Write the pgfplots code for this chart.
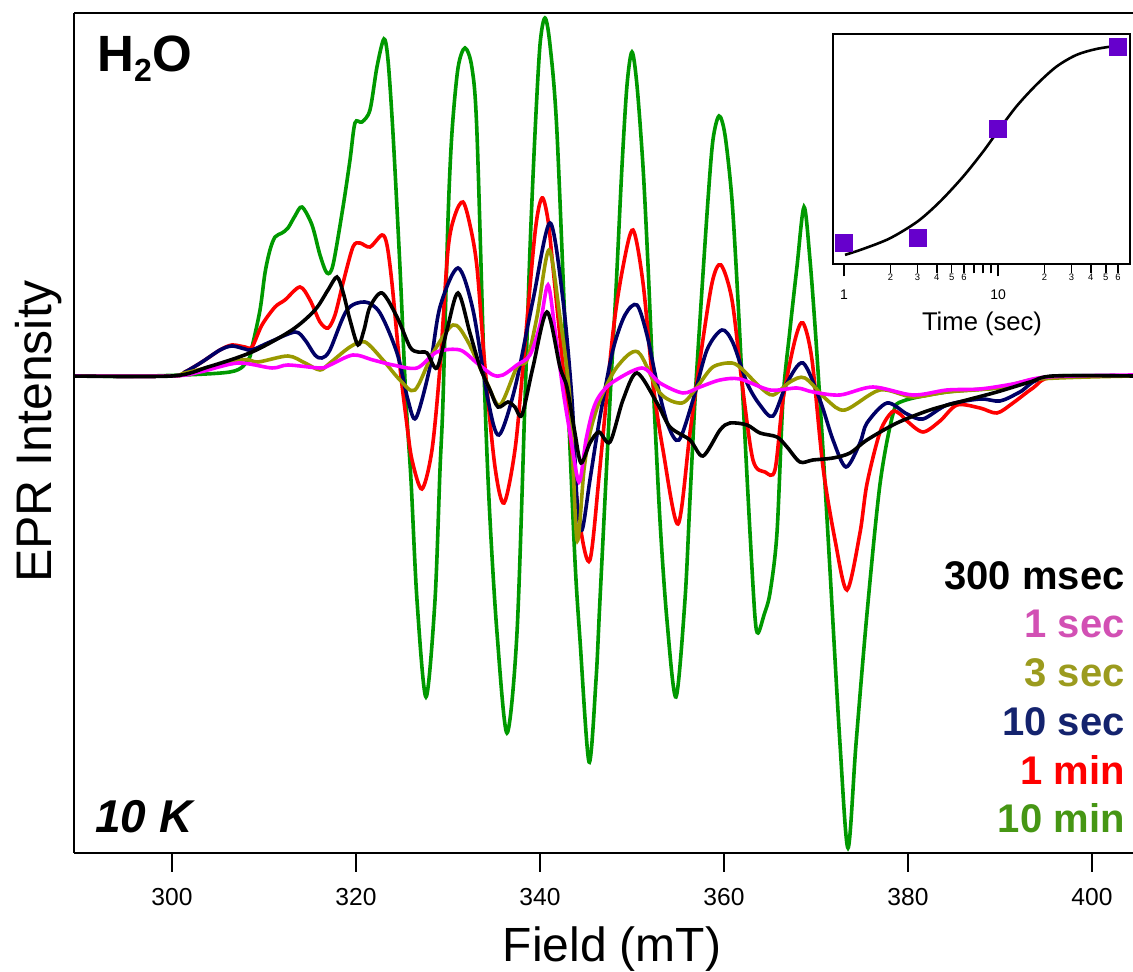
\documentclass[border=0pt]{standalone}
\usepackage{fontspec}
\setmainfont{Liberation Sans}
\usepackage{pgfplots}
\pgfplotsset{compat=1.18}
\definecolor{cgreen}{RGB}{0,153,0}
\definecolor{cred}{RGB}{255,0,0}
\definecolor{cnavy}{RGB}{0,0,102}
\definecolor{colive}{RGB}{153,153,0}
\definecolor{cmag}{RGB}{255,0,255}
\definecolor{cpurple}{RGB}{102,0,204}
\definecolor{tpink}{RGB}{210,80,180}
\definecolor{tolive}{RGB}{155,155,30}
\definecolor{tnavy}{RGB}{20,35,110}
\definecolor{tgreen}{RGB}{70,150,20}
\begin{document}
\begin{tikzpicture}
\begin{axis}[name=main, at={(0,0)}, anchor=south west, scale only axis,
  width=529.5pt, height=420pt,
  xmin=289.35, xmax=404.46, ymin=-477, ymax=363,
  axis x line*=box, axis y line*=left,
  xtick={300,320,...,400}, ytick=\empty, xtick pos=left,
  tick align=outside, major tick length=9.5pt,
  every tick/.style={black, line width=1pt},
  axis line style={line width=1pt},
  /pgf/number format/assume math mode=true, /pgf/number format/1000 sep={},
  xticklabel style={font=\fontsize{12.3}{14}\selectfont, anchor=base, yshift=-17pt},
  every axis plot/.append style={line width=1.8pt, smooth}]
% 10 min
\addplot[cgreen] coordinates {(289.0,0)(297.61,0)(306.30,4)(308.26,16)(308.70,29)(309.57,66)(310.11,103)(310.65,126)(311.20,139)(311.96,143)(312.61,148)(313.37,160)(314.13,169)(315.22,151)(316.09,121)(316.85,103)(317.50,111)(318.59,169)(319.35,216)(319.89,253)(320.65,254)(321.52,266)(322.28,309)(323.04,337)(323.48,316)(324.02,243)(324.78,109)(325.43,-24)(325.98,-104)(326.63,-224)(327.61,-321)(328.59,-224)(329.13,-94)(329.46,-24)(330.00,156)(330.43,243)(331.09,308)(331.85,328)(332.61,308)(333.15,243)(334.02,-24)(334.57,-144)(335.33,-257)(336.41,-357)(337.50,-257)(338.37,-24)(338.91,126)(339.46,243)(340.00,331)(340.54,358)(341.09,331)(341.85,243)(343.04,-24)(343.80,-184)(344.35,-264)(345.33,-386)(346.09,-304)(346.52,-224)(347.61,-24)(348.26,86)(348.91,209)(349.46,291)(350.00,324)(350.54,291)(351.20,209)(351.74,111)(352.28,-4)(353.04,-144)(353.80,-244)(354.78,-321)(355.76,-224)(356.30,-124)(356.85,-24)(357.39,56)(358.26,176)(358.80,236)(359.46,260)(360.11,241)(360.87,176)(361.52,76)(362.07,-24)(362.83,-157)(363.37,-241)(363.70,-257)(364.35,-239)(365.00,-217)(365.76,-157)(366.41,-24)(367.17,46)(367.93,109)(368.70,169)(369.35,116)(370.00,36)(370.76,-74)(371.52,-194)(372.61,-368)(373.48,-472)(374.35,-368)(375.54,-238)(376.96,-108)(378.37,-38)(379.46,-25)(384.24,-16)(389.67,-12)(393.26,-6)(396.20,0)(404.46,0)};
% 1 min
\addplot[cred] coordinates {(289.0,0)(300,0)(301.41,4)(303.26,14)(305.22,26)(306.52,31)(307.93,29)(308.70,29)(309.78,51)(311.20,69)(312.28,76)(313.91,89)(315.00,76)(316.09,54)(316.96,48)(317.72,61)(318.59,93)(319.67,129)(320.43,133)(321.52,129)(322.83,141)(323.37,131)(323.91,93)(324.78,9)(325.54,-49)(326.09,-84)(327.17,-113)(328.26,-74)(329.13,9)(330.00,126)(330.76,161)(331.63,174)(332.39,151)(333.15,109)(334.02,9)(335.11,-91)(336.09,-127)(337.28,-74)(338.15,9)(339.46,143)(340.22,178)(340.87,156)(341.41,109)(342.50,9)(343.26,-57)(344.35,-149)(345.43,-184)(346.52,-91)(347.93,43)(349.02,109)(350.11,146)(351.20,93)(352.28,-7)(353.37,-74)(355.00,-148)(356.30,-57)(357.39,16)(358.70,93)(359.67,111)(360.87,76)(361.96,-7)(363.15,-84)(364.46,-96)(365.54,-94)(366.41,-24)(367.72,36)(368.59,53)(369.57,16)(370.76,-91)(372.07,-164)(373.37,-214)(374.78,-157)(375.54,-108)(376.96,-56)(378.26,-36)(379.13,-38)(379.89,-45)(381.63,-56)(383.48,-45)(385.33,-29)(387.83,-32)(389.67,-37)(391.41,-27)(393.59,-12)(395.76,-1)(404.46,0)};
% 10 sec
\addplot[cnavy] coordinates {(289.0,0)(300,0)(301.41,4)(303.26,14)(305.22,26)(306.52,30)(307.93,27)(308.70,26)(310.65,34)(313.37,44)(314.46,36)(315.54,21)(316.30,18)(317.17,26)(319.02,66)(320.98,74)(322.61,63)(324.46,23)(325.65,-24)(326.52,-42)(328.04,9)(329.13,69)(331.09,108)(332.72,66)(334.35,-24)(335.54,-59)(337.28,-12)(339.24,76)(341.09,153)(342.50,76)(343.48,-24)(344.02,-124)(344.57,-154)(345.43,-104)(346.52,-41)(347.93,26)(349.24,61)(350.54,71)(351.63,41)(352.72,-7)(353.91,-49)(355.11,-64)(356.63,-24)(358.15,26)(359.78,46)(360.98,33)(362.50,-7)(363.91,-29)(365.33,-40)(366.85,-7)(368.59,13)(370.43,-24)(371.85,-64)(373.26,-91)(374.78,-67)(375.54,-47)(377.72,-27)(379.89,-38)(381.63,-43)(384.24,-29)(387.83,-23)(390.00,-25)(392.17,-16)(395.11,-1)(404.46,0)};
% 3 sec
\addplot[colive] coordinates {(289.0,0)(300,0)(301.41,3)(307.61,16)(309.35,14)(312.61,20)(314.46,13)(316.09,6)(317.17,13)(319.35,29)(320.98,34)(322.93,16)(324.78,-4)(326.41,-14)(328.37,23)(330.54,51)(332.07,36)(334.24,-7)(335.65,-29)(337.50,9)(338.59,16)(339.67,59)(340.98,126)(342.17,59)(343.26,-24)(344.02,-164)(344.78,-94)(345.43,-57)(346.52,-24)(348.37,9)(350.65,24)(353.04,-17)(355.43,-27)(357.07,-11)(358.80,9)(360.87,13)(362.07,6)(363.91,-11)(365.33,-19)(367.17,-6)(368.80,-2)(371.20,-24)(373.15,-34)(376.96,-14)(380.54,-21)(384.24,-16)(389.67,-12)(394.35,-3)(404.46,0)};
% 1 sec
\addplot[cmag] coordinates {(289.0,0)(300,0)(303.04,4)(307.17,13)(310.87,8)(312.61,11)(316.09,8)(317.17,11)(319.67,21)(321.85,16)(324.02,11)(326.63,8)(328.80,24)(331.30,26)(333.15,13)(334.89,1)(335.98,1)(337.50,11)(338.91,21)(340.00,51)(340.87,91)(341.63,46)(342.50,-14)(343.26,-57)(344.24,-106)(345.00,-64)(345.76,-34)(346.52,-19)(347.93,-6)(351.09,8)(353.04,-7)(355.54,-17)(357.39,-11)(359.57,-4)(361.74,-3)(365.00,-14)(367.93,-12)(369.67,-16)(372.61,-19)(376.20,-11)(380.54,-19)(384.24,-14)(387.83,-13)(391.41,-8)(395.11,-1)(404.46,1)};
% 300 msec
\addplot[black] coordinates {(289.0,0)(300,0)(303.91,9)(308.70,24)(313.04,46)(315.54,66)(316.96,86)(317.93,99)(318.59,84)(319.35,56)(320.22,31)(320.87,46)(321.52,69)(322.83,83)(324.46,59)(325.87,29)(326.74,24)(327.72,23)(328.80,8)(329.89,46)(331.09,83)(332.39,43)(333.48,9)(334.57,-14)(335.43,-31)(336.52,-26)(337.28,-31)(338.04,-39)(339.24,9)(340.76,64)(342.17,9)(342.93,-11)(343.80,-57)(344.46,-87)(345.43,-67)(346.41,-56)(347.61,-66)(349.02,-24)(350.54,3)(352.72,-27)(354.13,-51)(356.30,-64)(357.72,-80)(359.57,-54)(360.65,-47)(362.50,-49)(363.91,-57)(365.76,-61)(366.85,-71)(368.26,-86)(369.67,-84)(371.85,-82)(373.70,-77)(375.54,-64)(378.80,-47)(382.39,-34)(385.98,-25)(389.67,-16)(393.26,-6)(395.76,0)(404.46,0)};
\end{axis}
% labels of the main axis
\node[anchor=base, font=\fontsize{24}{28}\selectfont] at (269pt,-54pt) {Field (mT)};
\node[anchor=base, rotate=90, font=\fontsize{25}{30}\selectfont] at (-11.15pt,210.75pt) {EPR Intensity};
\node[anchor=base west, inner sep=0pt, font=\bfseries\fontsize{25.5}{30}\selectfont] at (11.5pt,390.5pt) {H\raisebox{-5pt}{\fontsize{16}{18}\selectfont 2}O};
\node[anchor=base west, inner sep=0pt, font=\bfseries\itshape\fontsize{23}{27}\selectfont] at (10.5pt,10pt) {10 K};
\begin{scope}[every node/.style={anchor=base east, inner sep=0pt, font=\bfseries\fontsize{20}{24}\selectfont}]
\node[text=black] at (525.5pt,131.5pt) {300 msec};
\node[text=tpink] at (525.5pt,107.75pt) {1 sec};
\node[text=tolive] at (525.5pt,83pt) {3 sec};
\node[text=tnavy] at (525.5pt,58.5pt) {10 sec};
\node[text=cred] at (525.5pt,34pt) {1 min};
\node[text=tgreen] at (525.5pt,10pt) {10 min};
\end{scope}
% inset
\begin{axis}[at={(379.65pt,294.35pt)}, anchor=south west, scale only axis,
  width=148.35pt, height=115pt,
  xmode=log, xmin=0.852, xmax=71.9, ymin=0, ymax=1,
  ytick=\empty, xtick={1,10},
  xticklabels={\raisebox{-8pt}{\fontsize{7}{8}\selectfont 1},\raisebox{-8pt}{\fontsize{7}{8}\selectfont 10}},
  minor xtick={7,8,9}, xtick pos=left, tick align=outside,
  major tick length=6pt, minor tick length=4.5pt,
  every tick/.style={black, line width=0.8pt},
  axis line style={line width=1pt},
  axis background/.style={fill=white},
  xticklabel style={font=\fontsize{4.7}{5}\selectfont, anchor=base, yshift=-3.85pt},
  extra x ticks={2,3,4,5,6,20,30,40,50,60},
  extra x tick labels={2,3,4,5,6,2,3,4,5,6},
  extra x tick style={major tick length=4.5pt}]
\addplot[black, line width=1.3pt, smooth] coordinates {(1.015,0.041)(1.334,0.067)(1.987,0.113)(3.0,0.186)(4.19,0.272)(5.93,0.381)(8.0,0.49)(10,0.58)(13.15,0.686)(17.7,0.78)(23.9,0.859)(32.2,0.91)(43.4,0.936)(60.2,0.951)};
\addplot[only marks, mark=square*, mark size=4.3pt, mark options={fill=cpurple, draw=cpurple}] coordinates {(1,0.093)(3,0.116)(10,0.588)(60,0.944)};
\end{axis}
\node[anchor=base, font=\fontsize{12.8}{15}\selectfont] at (454pt,261pt) {Time (sec)};
\pgfresetboundingbox
\path[use as bounding box] (-37pt,-59.5pt) rectangle (529.5pt,426.5pt);
\end{tikzpicture}
\end{document}
